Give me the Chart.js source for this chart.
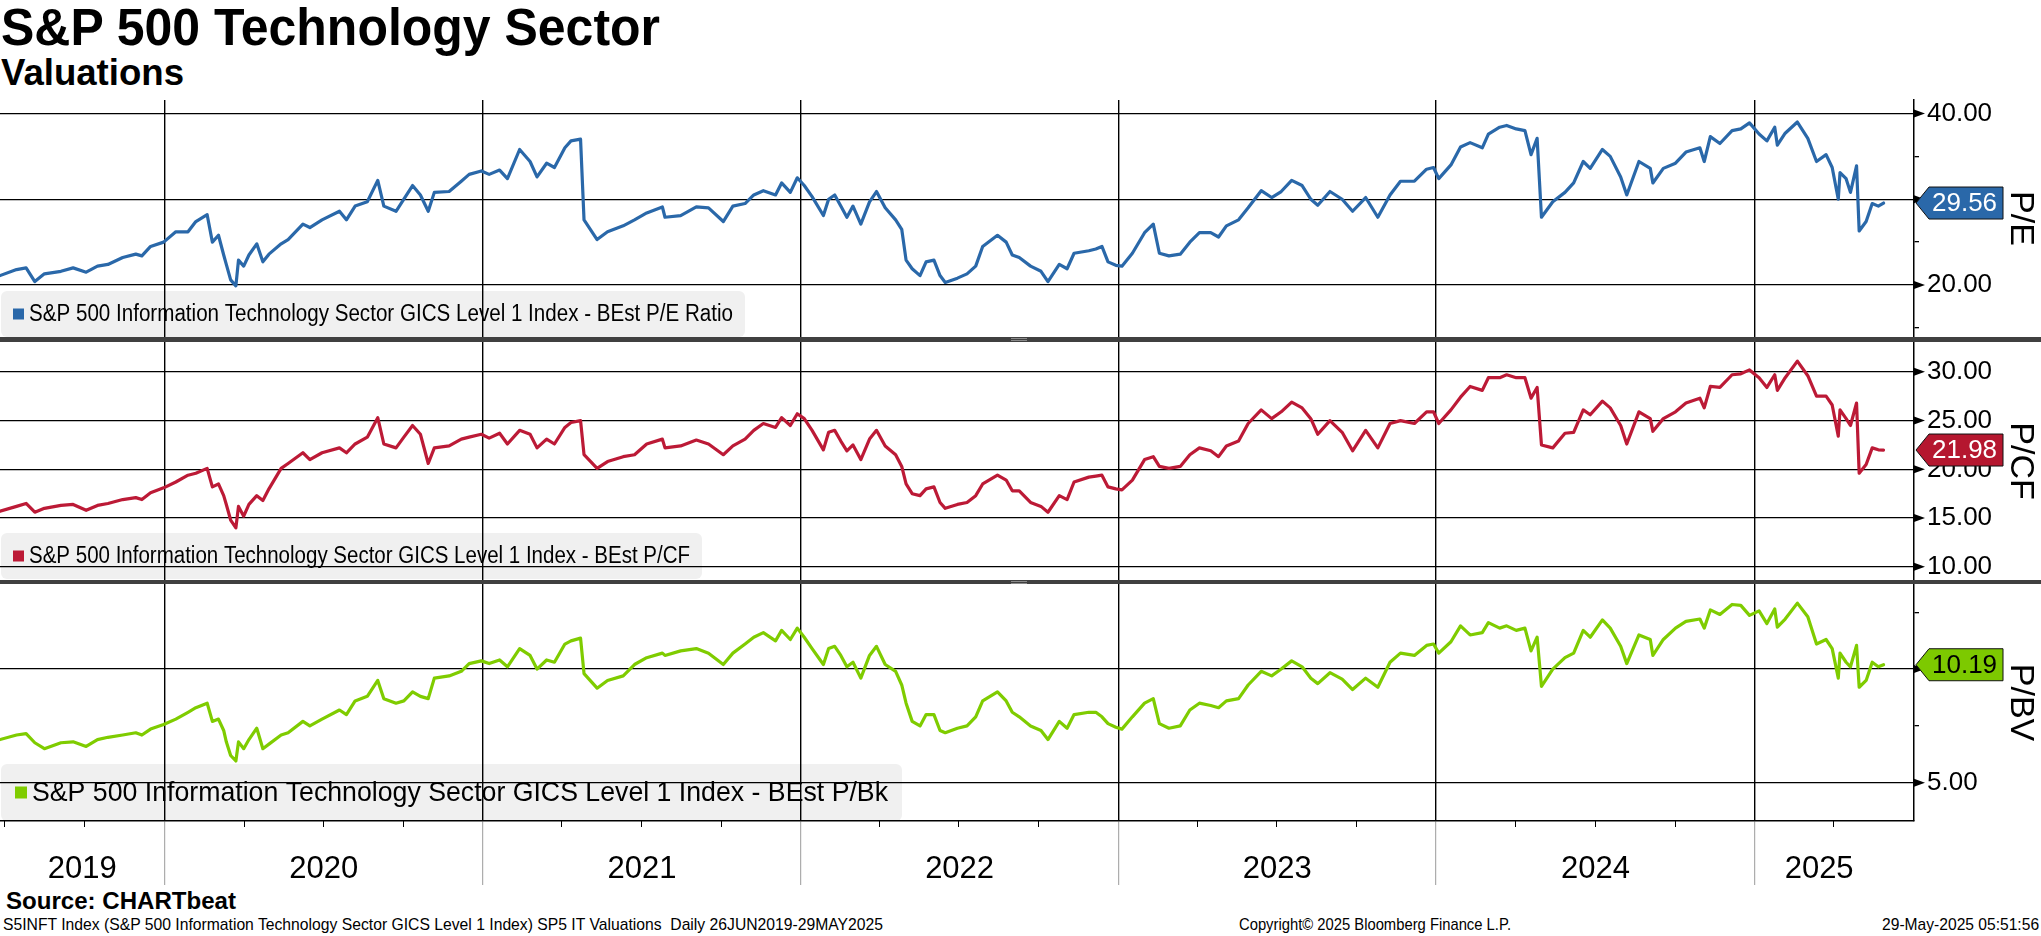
<!DOCTYPE html>
<html>
<head>
<meta charset="utf-8">
<title>S&amp;P 500 Technology Sector - Valuations</title>
<script src="https://cdn.jsdelivr.net/npm/chart.js@4.4.1/dist/chart.umd.min.js"></script>
<style>
  html, body { margin: 0; padding: 0; background: #fff; }
  body { width: 2041px; height: 936px; position: relative; overflow: hidden; font-family: 'Liberation Sans', Arial, sans-serif; color: #000; }
  canvas { position: absolute; left: 0; }
  .txt { position: absolute; white-space: nowrap; transform-origin: 0 0; }
  #title { left: 1px; top: -2px; font-weight: bold; font-size: 51px; line-height: 60px; }
  #sub { left: 1px; top: 53px; font-weight: bold; font-size: 36px; line-height: 40px; }
  #source { left: 6px; top: 888px; font-weight: bold; font-size: 23px; line-height: 26px; }
  .foot { top: 915px; font-size: 17px; line-height: 20px; font-family: 'Liberation Sans Narrow', 'Liberation Sans', sans-serif; }
  #foot3 { right: 2px; transform-origin: 100% 0; }
  .sep { position: absolute; left: 0; width: 2041px; background: #404040; z-index: 5; }
  .sep::after { content: ''; position: absolute; left: 1011px; top: 1px; width: 16px; height: 1px; border-top: 1px solid #8a8a8a; border-bottom: 1px solid #8a8a8a; }
</style>
</head>
<body>
<div id="title" class="txt" data-w="659">S&amp;P 500 Technology Sector</div>
<div id="sub" class="txt" data-w="183">Valuations</div>

<canvas id="c1" width="2041" height="265" style="top:80px"></canvas>
<canvas id="c2" width="2041" height="258" style="top:330px"></canvas>
<canvas id="c3" width="2041" height="313" style="top:572px"></canvas>
<div class="sep" style="top:337px;height:5px"></div>
<div class="sep" style="top:580px;height:4px"></div>

<div id="source" class="txt" data-w="230">Source: CHARTbeat</div>
<div id="foot1" class="txt foot" style="left:3px" data-w="880">S5INFT Index (S&amp;P 500 Information Technology Sector GICS Level 1 Index) SP5 IT Valuations&nbsp; Daily 26JUN2019-29MAY2025</div>
<div id="foot2" class="txt foot" style="left:1239px" data-w="272">Copyright© 2025 Bloomberg Finance L.P.</div>
<div id="foot3" class="txt foot" data-w="157">29-May-2025 05:51:56</div>

<script>
// BEst valuations of the S&P 500 IT sector
const dates = [
  '2019-06-26','2019-07-15','2019-07-26','2019-08-05','2019-08-16','2019-09-04','2019-09-18','2019-10-03','2019-10-16','2019-10-28',
  '2019-11-14','2019-11-29','2019-12-06','2019-12-16','2019-12-31','2020-01-14','2020-01-28','2020-02-06','2020-02-19','2020-02-25',
  '2020-03-03','2020-03-09','2020-03-12','2020-03-17','2020-03-23','2020-03-26','2020-04-01','2020-04-07','2020-04-16','2020-04-23',
  '2020-04-30','2020-05-14','2020-05-22','2020-06-08','2020-06-16','2020-06-30','2020-07-20','2020-07-28','2020-08-07','2020-08-21',
  '2020-09-02','2020-09-09','2020-09-23','2020-10-02','2020-10-12','2020-10-21','2020-10-30','2020-11-06','2020-11-23','2020-12-07',
  '2020-12-16','2020-12-30','2021-01-08','2021-01-20','2021-01-29','2021-02-12','2021-02-24','2021-03-04','2021-03-15','2021-03-24',
  '2021-04-05','2021-04-12','2021-04-23','2021-04-27','2021-05-12','2021-05-24','2021-06-11',
  '2021-06-24','2021-07-08','2021-07-26','2021-07-29','2021-08-16','2021-09-03','2021-09-17','2021-10-04','2021-10-15','2021-10-29',
  '2021-11-08','2021-11-19','2021-12-03','2021-12-10','2021-12-20','2021-12-28','2022-01-05','2022-01-14','2022-01-27','2022-02-02',
  '2022-02-09','2022-02-16','2022-02-23','2022-03-02','2022-03-11','2022-03-21','2022-03-29','2022-04-08','2022-04-20','2022-04-27',
  '2022-05-02','2022-05-09','2022-05-18','2022-05-25','2022-06-03','2022-06-10','2022-06-16','2022-06-30','2022-07-11','2022-07-21',
  '2022-07-29','2022-08-15','2022-08-25','2022-09-01','2022-09-09','2022-09-22','2022-10-04','2022-10-12','2022-10-25','2022-11-03',
  '2022-11-11','2022-11-28','2022-12-06','2022-12-13','2022-12-20','2022-12-29','2023-01-05','2023-01-17','2023-01-31','2023-02-10',
  '2023-02-17','2023-02-28','2023-03-13','2023-03-24','2023-04-04','2023-04-17','2023-04-26','2023-05-05','2023-05-19','2023-05-30',
  '2023-06-14',
  '2023-06-26','2023-07-07','2023-07-19','2023-07-31','2023-08-10','2023-08-18','2023-09-01','2023-09-15','2023-09-27','2023-10-12',
  '2023-10-26','2023-11-09','2023-11-21','2023-12-07','2023-12-21','2023-12-29','2024-01-04','2024-01-18','2024-01-29','2024-02-09',
  '2024-02-23','2024-03-01','2024-03-14','2024-03-22','2024-04-02','2024-04-12','2024-04-19','2024-04-26','2024-05-01','2024-05-14',
  '2024-05-28','2024-06-07','2024-06-18','2024-06-26','2024-07-10','2024-07-19','2024-07-31','2024-08-07','2024-08-21','2024-09-03',
  '2024-09-06','2024-09-18','2024-10-02','2024-10-14','2024-10-30','2024-11-04','2024-11-11','2024-11-22','2024-12-06','2024-12-16',
  '2024-12-26','2025-01-06','2025-01-15','2025-01-24','2025-01-27','2025-02-05','2025-02-19','2025-03-03','2025-03-13','2025-03-24',
  '2025-03-31','2025-04-07','2025-04-09','2025-04-16','2025-04-21','2025-04-28','2025-05-01','2025-05-09','2025-05-16','2025-05-23',
  '2025-05-29'
];

const peRatio = [
  21.1,21.8,22.0,20.4,21.3,21.6,22.0,21.5,22.2,22.4,
  23.2,23.6,23.4,24.5,25.0,26.2,26.2,27.4,28.2,25.0,
  25.8,23.5,22.4,20.6,19.9,22.9,22.2,23.5,24.8,22.7,
  23.6,24.8,25.3,27.1,26.7,27.6,28.6,27.6,29.2,29.7,
  32.2,29.2,28.6,30.0,31.6,30.5,28.6,30.8,30.9,32.1,
  32.9,33.3,32.9,33.4,32.4,35.8,34.4,32.6,34.2,33.7,
  36.0,36.8,37.0,27.6,25.3,26.2,26.9,
  27.6,28.4,29.1,27.9,28.1,29.1,29.0,27.4,29.2,29.5,
  30.5,31.0,30.5,31.9,30.8,32.5,31.6,30.3,28.1,30.0,
  30.5,29.2,27.9,29.2,27.1,29.7,30.9,29.0,27.6,26.5,
  22.9,21.9,21.1,22.7,22.9,21.1,20.3,20.8,21.3,22.2,
  24.5,25.8,25.0,23.5,23.2,22.2,21.6,20.4,22.4,21.9,
  23.7,24.0,24.2,24.5,22.7,22.3,22.2,23.7,26.1,27.1,
  23.7,23.4,23.6,25.0,26.1,26.1,25.6,26.9,27.6,29.0,
  31.0,
  30.2,30.9,32.2,31.6,30.0,29.3,30.9,30.0,28.6,30.2,
  27.9,30.5,32.1,32.1,33.5,33.7,32.4,34.0,36.1,36.6,
  36.0,37.6,38.4,38.6,38.2,38.0,35.2,37.1,27.9,29.7,
  30.8,31.9,34.4,33.6,35.8,35.0,32.6,30.5,34.4,33.6,
  31.9,33.6,34.2,35.5,36.0,34.4,37.3,36.5,38.0,38.2,
  38.9,37.6,36.8,38.4,36.3,37.7,39.0,37.1,34.4,35.2,
  33.7,30.0,33.1,32.4,30.8,33.9,26.3,27.4,29.5,29.2,
  29.56
];

const pcfRatio = [
  15.7,16.2,16.5,15.6,16.0,16.3,16.4,15.8,16.3,16.5,
  16.9,17.1,16.9,17.6,18.1,18.7,19.4,19.6,20.1,18.2,
  18.5,17.3,16.4,14.8,14.0,16.2,15.2,16.4,17.3,16.8,
  18.0,20.1,20.6,21.7,21.0,21.7,22.2,21.7,22.6,23.3,
  25.3,22.6,22.2,23.3,24.5,23.6,20.6,22.2,22.4,23.1,
  23.3,23.6,23.2,23.7,22.6,24.0,23.6,22.2,23.1,22.6,
  24.3,24.8,25.0,21.5,20.1,20.8,21.3,
  21.5,22.6,23.1,22.2,22.4,23.0,22.6,21.5,22.4,23.1,
  24.0,24.7,24.3,25.3,24.5,25.7,25.2,24.0,22.0,23.8,
  24.0,22.9,21.9,22.5,21.0,23.1,24.0,22.4,21.5,20.3,
  18.5,17.5,17.3,18.0,18.2,16.6,16.0,16.4,16.6,17.3,
  18.5,19.4,18.9,17.8,17.8,16.6,16.2,15.6,17.3,16.9,
  18.7,19.2,19.3,19.4,18.2,18.0,17.9,18.9,21.0,21.3,
  20.3,20.1,20.3,21.5,22.2,21.9,21.3,22.4,22.9,24.7,
  26.1,
  25.2,25.9,26.9,26.3,25.2,23.6,25.0,23.8,21.9,24.0,
  22.2,24.7,25.0,24.7,25.9,25.9,24.7,26.1,27.4,28.5,
  28.1,29.4,29.4,29.7,29.4,29.4,27.3,28.4,22.5,22.2,
  23.7,23.8,26.1,25.6,27.0,26.3,24.5,22.6,25.9,25.2,
  23.9,25.2,25.9,26.8,27.3,26.3,28.5,28.4,29.7,29.8,
  30.2,29.4,28.4,29.7,28.1,29.4,31.1,29.6,27.5,27.5,
  26.6,23.4,26.1,25.2,24.5,26.8,19.6,20.5,22.2,22.0,
  21.98
];

const pbvRatio = [
  6.9,7.1,7.16,6.76,6.5,6.76,6.8,6.6,6.9,7.0,
  7.1,7.2,7.1,7.36,7.56,7.8,8.1,8.3,8.5,7.7,
  7.8,7.3,6.8,6.2,5.96,6.8,6.5,6.9,7.4,6.5,
  6.7,7.1,7.2,7.7,7.5,7.8,8.2,8.0,8.6,8.8,
  9.5,8.7,8.5,8.6,9.0,8.8,8.7,9.6,9.7,9.9,
  10.24,10.36,10.24,10.4,10.1,10.9,10.6,10.0,10.4,10.3,
  11.1,11.24,11.36,9.8,9.16,9.5,9.7,
  10.2,10.5,10.7,10.6,10.8,10.9,10.7,10.2,10.7,11.1,
  11.4,11.6,11.24,11.7,11.3,11.8,11.4,10.9,10.2,10.9,
  11.0,10.6,10.1,10.3,9.6,10.6,11.0,10.2,9.9,9.3,
  8.5,7.7,7.5,8.0,8.0,7.3,7.2,7.4,7.5,7.9,
  8.6,9.0,8.6,8.1,7.9,7.5,7.3,6.9,7.7,7.4,
  8.0,8.1,8.1,7.9,7.6,7.44,7.36,7.9,8.5,8.7,
  7.6,7.4,7.5,8.2,8.5,8.4,8.3,8.6,8.7,9.3,
  9.9,
  9.7,10.0,10.36,10.1,9.6,9.36,9.84,9.56,9.1,9.6,
  9.2,10.3,10.7,10.6,11.04,11.1,10.7,11.2,11.9,11.5,
  11.6,12.04,11.8,11.9,11.7,11.8,10.8,11.4,9.24,10.0,
  10.5,10.7,11.7,11.4,12.16,11.8,11.0,10.24,11.5,11.3,
  10.6,11.3,11.8,12.1,12.2,11.8,12.6,12.4,12.84,12.8,
  12.36,12.56,12.0,12.64,11.84,12.2,12.9,12.3,11.1,11.3,
  10.9,9.6,10.7,10.3,10.1,11.04,9.2,9.5,10.3,10.1,
  10.19
];

const yearLabels = ['2019', '2020', '2021', '2022', '2023', '2024', '2025'];
const peMajor = [20, 30, 40], peMinor = [15, 25, 35];
const pcfMajor = [10, 15, 20, 25, 30], pcfMinor = [12.5, 17.5, 22.5, 27.5, 32.5];
const pbvMajor = [5, 10], pbvMinor = [7.5, 12.5];
const peName = 'S&P 500 Information Technology Sector GICS Level 1 Index - BEst P/E Ratio';
const pcfName = 'S&P 500 Information Technology Sector GICS Level 1 Index - BEst P/CF';
const pbvName = 'S&P 500 Information Technology Sector GICS Level 1 Index - BEst P/Bk';

const SANS = "'Liberation Sans', Arial, sans-serif";
const NARROW = "'Liberation Sans Narrow', 'Liberation Sans', sans-serif";
const ms = d => Date.parse(d + 'T00:00:00Z');
const xMin = ms(dates[0]);
const xMax = ms('2025-07-03');
const xLast = ms(dates[dates.length - 1]);

// year boundaries carry the grid, mid-year ticks carry the labels
const yearStarts = [];
const midLabel = new Map();
yearLabels.forEach(lbl => {
  const y = +lbl;
  const s = Math.max(Date.UTC(y, 0, 1), xMin);
  const e = Math.min(Date.UTC(y + 1, 0, 1), xLast);
  if (Date.UTC(y, 0, 1) > xMin) yearStarts.push(Date.UTC(y, 0, 1));
  midLabel.set((s + e) / 2, lbl);
});
const isStart = v => yearStarts.includes(v);

function decor(p) {
  return {
    id: 'decor',
    beforeDraw(chart) {
      const { ctx, chartArea: a } = chart;
      const top = a.bottom - p.boxH - p.boxGap;
      ctx.save();
      ctx.fillStyle = '#f0f0f0';
      ctx.beginPath();
      ctx.roundRect(1, top, p.boxW, p.boxH, 6);
      ctx.fill();
      const cy = top + p.boxH / 2;
      ctx.fillStyle = p.color;
      ctx.fillRect(p.sqX, cy - p.sq / 2, p.sq, p.sq);
      ctx.font = `${p.legendSize}px ${NARROW}`;
      ctx.textBaseline = 'middle';
      ctx.fillStyle = '#000';
      const w = ctx.measureText(p.legend).width;
      ctx.translate(p.textX, cy + 1);
      ctx.scale(p.textW / w, 1);
      ctx.fillText(p.legend, 0, 0);
      ctx.restore();
    },
    afterDraw(chart) {
      const { ctx, chartArea: a, scales } = chart;
      const y = scales.y;
      ctx.save();
      ctx.fillStyle = '#000';
      p.major.forEach(v => {
        const py = y.getPixelForValue(v);
        ctx.beginPath();
        ctx.moveTo(a.right, py - 4);
        ctx.lineTo(a.right + 11, py);
        ctx.lineTo(a.right, py + 4);
        ctx.fill();
      });
      if (p.bottom) {
        // quarterly marks on the date axis
        ctx.strokeStyle = '#000';
        ctx.lineWidth = 1;
        for (let yr = 2019; yr <= 2025; yr++) {
          [3, 6, 9].forEach(m => {
            const v = Date.UTC(yr, m, 1);
            if (v <= xMin || v > xLast) return;
            const px = Math.round(scales.x.getPixelForValue(v)) + 0.5;
            ctx.beginPath();
            ctx.moveTo(px, a.bottom);
            ctx.lineTo(px, a.bottom + 6);
            ctx.stroke();
          });
        }
      }
      // last value tag
      const last = p.values[p.values.length - 1];
      const ty = y.getPixelForValue(last);
      const x0 = a.right + 2;
      ctx.beginPath();
      ctx.moveTo(x0, ty);
      ctx.lineTo(x0 + 13, ty - 16);
      ctx.lineTo(2003, ty - 16);
      ctx.lineTo(2003, ty + 16);
      ctx.lineTo(x0 + 13, ty + 16);
      ctx.closePath();
      ctx.fillStyle = p.tag;
      ctx.fill();
      ctx.lineWidth = 1;
      ctx.strokeStyle = '#111';
      ctx.stroke();
      ctx.fillStyle = p.tagText;
      ctx.font = `26px ${SANS}`;
      ctx.textBaseline = 'middle';
      ctx.fillText(last.toFixed(2), x0 + 16, ty + 1);
      ctx.restore();
    }
  };
}

function plainX() {
  return {
    type: 'linear', min: xMin, max: xMax,
    afterBuildTicks: ax => { ax.ticks = yearStarts.map(v => ({ value: v })); },
    ticks: { display: false },
    grid: { color: '#000', lineWidth: 1.4, drawTicks: false },
    border: { display: false },
    afterFit: ax => { ax.height = 0; ax.paddingLeft = 0; ax.paddingRight = 0; }
  };
}

function dateX() {
  return {
    type: 'linear', min: xMin, max: xMax,
    afterBuildTicks: ax => {
      ax.ticks = yearStarts.concat([...midLabel.keys()]).sort((m, n) => m - n).map(v => ({ value: v }));
    },
    ticks: {
      autoSkip: false, maxRotation: 0, minRotation: 0, padding: -34,
      color: '#000', font: { family: NARROW, size: 31 },
      callback: v => midLabel.has(v) ? midLabel.get(v) : ''
    },
    grid: {
      color: c => isStart(c.tick.value) ? '#000' : 'rgba(0,0,0,0)',
      lineWidth: 1.4, tickLength: 64, tickWidth: 1,
      tickColor: c => isStart(c.tick.value) ? '#9a9a9a' : 'rgba(0,0,0,0)'
    },
    border: { display: true, color: '#000', width: 1.5 },
    afterFit: ax => { ax.height = 64; ax.paddingLeft = 0; ax.paddingRight = 0; }
  };
}

function makePanel(p) {
  const tickVals = p.major.concat(p.minor).sort((m, n) => m - n);
  return new Chart(document.getElementById(p.id), {
    type: 'line',
    data: {
      datasets: [{
        data: dates.map((d, i) => ({ x: ms(d), y: p.values[i] })),
        borderColor: p.color, borderWidth: 3.2, pointRadius: 0, tension: 0,
        borderJoinStyle: 'round', borderCapStyle: 'round'
      }]
    },
    options: {
      responsive: false, animation: false, devicePixelRatio: 1,
      layout: { padding: { top: p.padTop, bottom: p.padBottom, left: 0, right: 0 } },
      plugins: { legend: { display: false }, tooltip: { enabled: false } },
      scales: {
        x: p.bottom ? dateX() : plainX(),
        y: {
          position: 'right', min: p.min, max: p.max,
          afterBuildTicks: ax => { ax.ticks = tickVals.map(v => ({ value: v })); },
          afterFit: ax => { ax.width = 127; ax.paddingTop = 0; ax.paddingBottom = 0; },
          ticks: {
            color: '#000', padding: 8, font: { family: SANS, size: 26 },
            callback: v => p.major.includes(v) ? v.toFixed(2) : ''
          },
          grid: {
            color: c => p.major.includes(c.tick.value) ? '#000' : 'rgba(0,0,0,0)',
            lineWidth: 1.3, tickLength: 5, tickWidth: 1.3,
            tickColor: c => p.major.includes(c.tick.value) ? 'rgba(0,0,0,0)' : '#000'
          },
          border: { display: true, color: '#000', width: 1.5 },
          title: { display: true, text: p.title, color: '#000', font: { family: SANS, size: 34 }, padding: 0 }
        }
      }
    },
    plugins: [decor(p)]
  });
}

makePanel({
  id: 'c1', values: peRatio, color: '#2a68a9', tag: '#2a68a9', tagText: '#fff',
  min: 13.94, max: 41.57, major: peMajor, minor: peMinor, title: 'P/E',
  padTop: 20, padBottom: 8, bottom: false,
  legend: peName, boxW: 744, boxH: 46, boxGap: 0, sq: 11, sqX: 13, textX: 29, textW: 704, legendSize: 23
});
makePanel({
  id: 'c2', values: pcfRatio, color: '#bc1a36', tag: '#b5172f', tagText: '#fff',
  min: 8.65, max: 33.06, major: pcfMajor, minor: pcfMinor, title: 'P/CF',
  padTop: 12, padBottom: 8, bottom: false,
  legend: pcfName, boxW: 701, boxH: 46, boxGap: 1, sq: 11, sqX: 13, textX: 29, textW: 661, legendSize: 23
});
makePanel({
  id: 'c3', values: pbvRatio, color: '#7fcc00', tag: '#7dc900', tagText: '#000',
  min: 3.32, max: 13.74, major: pbvMajor, minor: pbvMinor, title: 'P/BV',
  padTop: 12, padBottom: 0, bottom: true,
  legend: pbvName, boxW: 901, boxH: 57, boxGap: 0, sq: 12, sqX: 15, textX: 32, textW: 856, legendSize: 28
});

// squeeze the header and footer texts to the widths of the original
document.querySelectorAll('.txt[data-w]').forEach(el => {
  const w = el.getBoundingClientRect().width;
  el.style.transform = `scaleX(${(+el.dataset.w / w).toFixed(4)})`;
});
</script>
</body>
</html>
